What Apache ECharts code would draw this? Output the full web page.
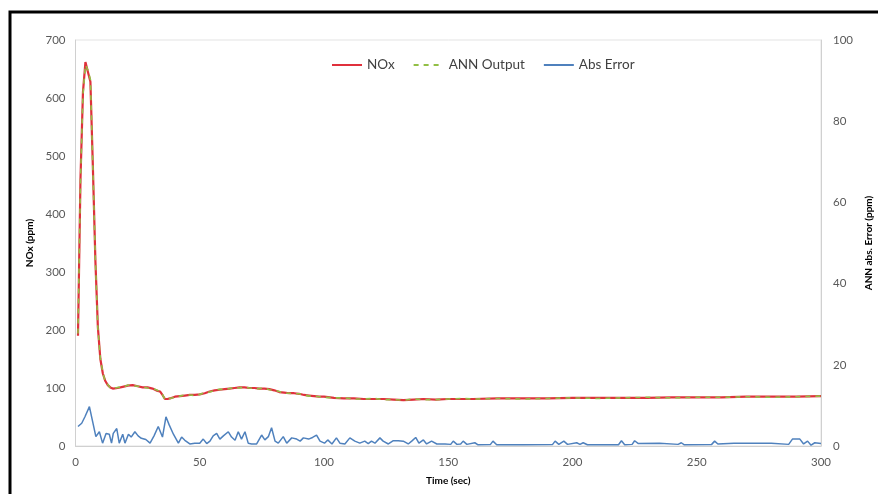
<!DOCTYPE html>
<html>
<head>
<meta charset="utf-8">
<script src="https://cdn.jsdelivr.net/npm/echarts@6/dist/echarts.min.js"></script>
<style>
  html, body { margin: 0; padding: 0; background: #fff; }
  #chart { width: 878px; height: 494px; }
</style>
</head>
<body>
<div id="chart"></div>
<script>
// time (sec) for the NOx / ANN curves
const noxTime = [1, 2, 3, 4, 5, 6, 7, 8, 9, 10, 11, 12, 13, 14, 15, 17, 19, 21, 23, 25, 27, 29, 31, 33, 34, 35, 36, 37, 38, 40,
  42, 44, 46, 48, 50, 52, 54, 56, 58, 60, 62, 64, 66, 68, 70, 72, 74, 76, 78, 80, 82, 84, 86, 88, 90, 92, 94, 96, 98, 100,
  104, 108, 112, 116, 120, 124, 128, 132, 136, 140, 145, 150, 155, 160, 170, 180, 190, 200, 210, 220, 230, 240, 250, 260,
  270, 280, 290, 300];
const noxValues = [190, 460, 610, 662, 645, 628, 480, 320, 205, 150, 125, 112, 105, 101, 99, 100, 102, 104, 105, 103, 101, 101, 99, 95, 94, 88, 81, 81, 82, 85,
  86, 87, 88, 88, 89, 91, 94, 96, 97, 98, 99, 100, 101, 101, 100, 100, 99, 99, 98, 96, 93, 92, 91, 91, 90, 88, 87, 86, 85, 85,
  83, 82, 82, 81, 81, 81, 80, 79, 80, 81, 80, 81, 81, 81, 82, 82, 82, 83, 83, 83, 83, 84, 84, 84,
  85, 85, 85, 86];
const annValues = [194, 455, 606, 657, 648, 632, 477, 322, 203, 151, 126, 111, 106, 100, 99, 101, 101, 105, 104, 103, 102, 100, 99, 96, 93, 89, 80, 82, 82, 84,
  86, 88, 88, 87, 89, 92, 93, 96, 98, 97, 99, 101, 100, 102, 100, 99, 99, 100, 97, 96, 94, 91, 91, 90, 90, 88, 86, 86, 85, 84,
  83, 83, 81, 81, 82, 80, 80, 79, 81, 80, 80, 81, 82, 81, 82, 81, 82, 83, 82, 83, 84, 83, 84, 84,
  85, 84, 85, 86];

// absolute error (right axis)
const errTime = [1, 2.5, 3.8, 5.6, 6.9, 8.2, 9.6, 10.9, 12.3, 13.6, 14.5, 15.2, 16.6, 17.6, 19, 19.9, 21.3, 22.4, 23.9, 25.2,
  26.5, 28.3, 30, 31.6, 33.3, 34, 35, 36.4, 37.7, 39.4, 41.4, 42.7, 44, 46, 48, 50, 51.4, 52.8, 54.1, 55.4,
  56.8, 58.1, 59.5, 61.5, 62.8, 64.2, 65.5, 66.8, 68.2, 69.5, 70.9, 72.9, 74.9, 76.2, 77.6, 78.9, 80.3, 81.6, 83.6, 85,
  87, 89, 90.4, 91.7, 93.8, 95.4, 97, 98.4, 100.2, 101.5, 103.2, 105, 106.4, 108.4, 110.4, 112.4, 114.4, 116.4, 117.8, 119.1,
  120.5, 122.5, 123.8, 125.9, 127.9, 129.9, 131.9, 133.9, 135.3, 136.9, 138.2, 140, 141.3, 143.3, 145.4, 148.7, 151, 152, 153.5, 155,
  156, 157.5, 160.7, 162, 167, 168, 169.5, 180, 192, 193, 194.5, 196.5, 198, 201.7, 203, 204.3, 206, 218.5, 219.7, 221,
  224, 225, 226.5, 235, 242.5, 243.8, 245, 256, 257.2, 258.5, 265, 280, 287, 288.5, 291.5, 293, 294.6, 296, 297.5, 300];
const errValues = [4.8, 5.6, 7.2, 9.7, 6, 2.3, 3.5, 0.7, 3.1, 2.9, 0.7, 3.1, 4.3, 0.7, 2.9, 0.7, 2.9, 2.2, 3.5, 2.5,
  1.9, 1.6, 0.7, 2.5, 4.8, 5.2, 2.2, 7.2, 5.2, 2.9, 0.7, 2.2, 1.4, 0.5, 0.7, 0.7, 1.7, 0.6, 1.2, 2.5,
  3.1, 1.7, 2.5, 3.5, 2.2, 1.4, 3.5, 1.7, 3.5, 0.7, 0.5, 0.5, 2.7, 1.5, 2.3, 4.5, 1.2, 0.7, 2.3, 0.7,
  2, 1.7, 1.2, 2, 1.7, 2.1, 2.7, 1.2, 0.7, 1.5, 0.5, 2, 0.7, 0.5, 2, 1.2, 0.7, 1.2, 0.6, 1.2,
  0.7, 2, 1.2, 0.5, 1.3, 1.3, 1.2, 0.5, 1.2, 2.1, 0.7, 1.5, 0.5, 1.2, 0.5, 0.5, 0.4, 1.2, 0.4, 0.5,
  1.2, 0.4, 0.8, 0.3, 0.4, 1.2, 0.3, 0.3, 0.4, 1.2, 0.4, 1.2, 0.4, 0.8, 0.4, 0.8, 0.3, 0.3, 1.3, 0.3,
  0.4, 1.3, 0.6, 0.7, 0.4, 0.8, 0.3, 0.4, 1.2, 0.5, 0.7, 0.7, 0.4, 1.7, 1.7, 0.5, 1.2, 0.2, 0.8, 0.6];

const pairs = (xs, ys) => xs.map((x, i) => [x, ys[i]]);

const axisText = { color: "#595959", fontSize: 11.5, fontFamily: "Lato" };
const nameText = { color: "#000", fontSize: 10, fontWeight: "bold", fontFamily: "Lato" };

const chart = echarts.init(document.getElementById("chart"));
chart.setOption({
  animation: false,
  textStyle: { fontFamily: "Lato" },
  graphic: [{
    type: "rect",
    shape: { x: 10, y: 12, width: 900, height: 520 },
    style: { fill: "none", stroke: "#000", lineWidth: 3 },
    silent: true
  }],
  grid: {
    left: 75.5, right: 57, top: 40, bottom: 48,
    outerBoundsMode: "none",
    show: true, borderColor: "#e3e3e3", borderWidth: 1
  },
  legend: {
    top: 53, left: 326,
    itemWidth: 30, itemHeight: 10, itemGap: 18,
    itemStyle: { opacity: 0 },
    textStyle: { color: "#404040", fontSize: 13.5, fontFamily: "Lato" },
    data: ["NOx", "ANN Output", "Abs Error"]
  },
  xAxis: {
    type: "value", min: 0, max: 300, interval: 50,
    name: "Time (sec)", nameLocation: "middle", nameGap: 30, nameTextStyle: nameText,
    axisLine: { lineStyle: { color: "#d0d0d0" } },
    axisTick: { show: false },
    splitLine: { show: false },
    axisLabel: Object.assign({ margin: 10 }, axisText)
  },
  yAxis: [{
    type: "value", min: 0, max: 700, interval: 100,
    name: "NOx (ppm)", nameLocation: "middle", nameGap: 33, nameTextStyle: nameText,
    axisLine: { show: true, lineStyle: { color: "#d0d0d0" } },
    axisTick: { show: false },
    splitLine: { show: false },
    axisLabel: Object.assign({ margin: 10 }, axisText)
  }, {
    type: "value", min: 0, max: 100, interval: 20, position: "right",
    name: "ANN abs. Error (ppm)", nameLocation: "middle", nameGap: 38, nameRotate: 90, nameTextStyle: nameText,
    axisLine: { show: true, lineStyle: { color: "#d0d0d0" } },
    axisTick: { show: false },
    splitLine: { show: false },
    axisLabel: Object.assign({ margin: 12 }, axisText)
  }],
  series: [{
    name: "NOx", type: "line", yAxisIndex: 0, showSymbol: false, symbol: "none",
    itemStyle: { color: "#e0303c" },
    lineStyle: { color: "#e0303c", width: 2.2 },
    data: pairs(noxTime, noxValues)
  }, {
    name: "ANN Output", type: "line", yAxisIndex: 0, showSymbol: false, symbol: "none",
    itemStyle: { color: "#92bf45" },
    lineStyle: { color: "#92bf45", width: 1.6, type: [5, 5] },
    data: pairs(noxTime, annValues)
  }, {
    name: "Abs Error", type: "line", yAxisIndex: 1, showSymbol: false, symbol: "none",
    itemStyle: { color: "#4f81bd" },
    lineStyle: { color: "#4f81bd", width: 1.5 },
    data: pairs(errTime, errValues)
  }]
});
</script>
</body>
</html>
